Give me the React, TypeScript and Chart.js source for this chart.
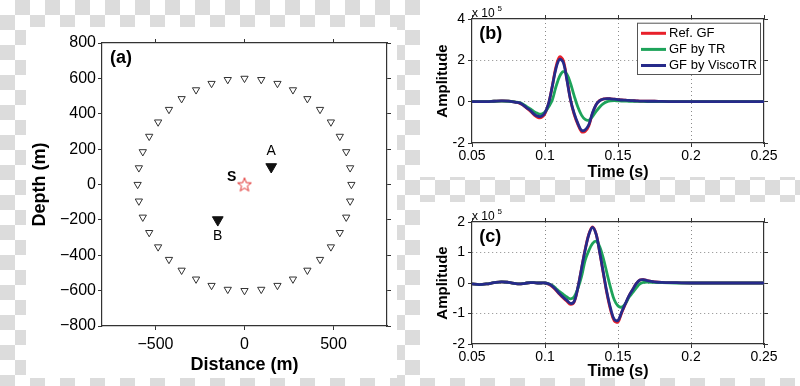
import React, { useEffect, useRef } from 'react';
import { Chart, registerables } from 'chart.js';

Chart.register(...registerables);

const FONT = '"Liberation Sans", Arial, Helvetica, sans-serif';

// ---------- Panel (a): receiver geometry ----------
const STATION_X = [0, 94, 185, 272, 353, 424, 485, 535, 571, 593, 600, 593, 571, 535, 485, 424, 353, 272, 185, 94,
  0, -94, -185, -272, -353, -424, -485, -535, -571, -593, -600, -593, -571, -535, -485, -424, -353, -272, -185, -94];
const STATION_Y = [600, 593, 571, 535, 485, 424, 353, 272, 185, 94, 0, -94, -185, -272, -353, -424, -485, -535, -571, -593,
  -600, -593, -571, -535, -485, -424, -353, -272, -185, -94, 0, 94, 185, 272, 353, 424, 485, 535, 571, 593];
const MARKED_X = [150, -150];
const MARKED_Y = [100, -200];
const SOURCE_X = [0];
const SOURCE_Y = [0];
const NOTE_TEXT = ['A', 'B', 'S'];
const NOTE_X = [150, -150, -72];
const NOTE_Y = [188, -290, 40];
const A_X_TICKS = [-500, 0, 500];
const A_X_LABELS = ['\u2212500', '0', '500'];
const A_Y_TICKS = [-800, -600, -400, -200, 0, 200, 400, 600, 800];
const A_Y_LABELS = ['\u2212800', '\u2212600', '\u2212400', '\u2212200', '0', '200', '400', '600', '800'];

// ---------- Panels (b), (c): waveforms (x 10^5) ----------
const TIME = [0.05, 0.055, 0.06, 0.065, 0.07, 0.075, 0.08, 0.0825, 0.085, 0.0875, 0.09, 0.0925, 0.095, 0.0975,
  0.1, 0.1025, 0.105, 0.1075, 0.11, 0.1125, 0.115, 0.1175, 0.12, 0.1225, 0.125, 0.1275, 0.13, 0.1325, 0.135,
  0.1375, 0.14, 0.1425, 0.145, 0.1475, 0.15, 0.1525, 0.155, 0.1575, 0.16, 0.1625, 0.165, 0.1675, 0.17, 0.175,
  0.18, 0.19, 0.2, 0.21, 0.22, 0.23, 0.24, 0.25];

const B_REF = [0, 0, 0, 0.02, 0.04, 0.03, -0.03, -0.07, -0.17, -0.32, -0.46, -0.64, -0.76, -0.77, -0.58, -0.09,
  0.76, 1.68, 2.17, 2.0, 1.1, 0.08, -0.62, -1.1, -1.45, -1.44, -1.17, -0.58, -0.14, 0.06, 0.13, 0.15, 0.14, 0.12,
  0.1, 0.08, 0.07, 0.06, 0.05, 0.04, 0.03, 0.03, 0.02, 0.02, 0.01, 0, 0, 0, 0, 0, 0, 0];
const B_TR = [0, 0, 0, 0.02, 0.03, 0.02, -0.02, -0.05, -0.12, -0.24, -0.35, -0.48, -0.57, -0.6, -0.5, -0.25,
  0.08, 0.72, 1.22, 1.45, 1.33, 0.88, 0.28, -0.26, -0.65, -0.86, -0.9, -0.72, -0.47, -0.26, -0.1, 0, 0.04, 0.05,
  0.04, 0.03, 0.03, 0.02, 0.02, 0.01, 0.01, 0.01, 0, 0, 0, 0, 0, 0, 0, 0, 0, 0];
const B_VISCO = [0, 0, 0, 0.02, 0.04, 0.03, -0.03, -0.06, -0.16, -0.3, -0.43, -0.6, -0.7, -0.71, -0.53, -0.07,
  0.74, 1.6, 2.05, 1.9, 1.05, 0.08, -0.57, -1.05, -1.38, -1.36, -1.12, -0.55, -0.15, 0.05, 0.13, 0.15, 0.14, 0.12,
  0.1, 0.08, 0.07, 0.06, 0.05, 0.04, 0.03, 0.03, 0.02, 0.02, 0.01, 0, 0, 0, 0, 0, 0, 0];

const C_REF = [-0.03, -0.05, -0.03, 0.01, 0.04, 0.02, -0.02, -0.03, -0.02, 0, 0.01, 0.01, 0, 0, 0, -0.04,
  -0.12, -0.24, -0.37, -0.49, -0.6, -0.7, -0.62, -0.16, 0.47, 1.1, 1.6, 1.84, 1.61, 1.0, 0.3, -0.37, -0.9, -1.25,
  -1.28, -0.98, -0.7, -0.43, -0.22, -0.02, 0.1, 0.11, 0.08, 0.04, 0.02, 0.01, 0, 0, 0, 0, 0, 0];
const C_TR = [-0.03, -0.05, -0.03, 0.01, 0.04, 0.02, -0.02, -0.03, -0.02, 0, 0.01, 0.01, 0, 0, 0, -0.03,
  -0.08, -0.18, -0.28, -0.37, -0.46, -0.52, -0.45, -0.18, 0.21, 0.74, 1.06, 1.29, 1.37, 1.19, 0.8, 0.31, -0.17,
  -0.56, -0.75, -0.79, -0.68, -0.47, -0.32, -0.16, -0.03, 0.02, 0.03, 0.02, 0.01, 0, 0, 0, 0, 0, 0, 0];
const C_VISCO = [-0.03, -0.05, -0.03, 0.01, 0.04, 0.02, -0.02, -0.03, -0.02, 0, 0.01, 0.01, 0, 0, 0, -0.03,
  -0.1, -0.22, -0.35, -0.47, -0.57, -0.67, -0.6, -0.15, 0.47, 1.08, 1.58, 1.82, 1.6, 1.0, 0.33, -0.33, -0.85,
  -1.2, -1.23, -0.95, -0.68, -0.42, -0.22, -0.02, 0.1, 0.11, 0.08, 0.04, 0.02, 0.01, 0, 0, 0, 0, 0, 0];

const SERIES_NAMES = ['Ref. GF', 'GF by TR', 'GF by ViscoTR'];
const SERIES_COLORS = ['#e8202a', '#1ea35a', '#262a8a'];
const T_TICKS = [0.05, 0.1, 0.15, 0.2, 0.25];
const T_LABELS = ['0.05', '0.1', '0.15', '0.2', '0.25'];
const B_Y_TICKS = [-2, 0, 2, 4];
const B_Y_LABELS = ['-2', '0', '2', '4'];
const C_Y_TICKS = [-2, -1, 0, 1, 2];
const C_Y_LABELS = ['-2', '-1', '0', '1', '2'];

const FRAME = '#333';

function makeStar(): HTMLCanvasElement {
  const c = document.createElement('canvas');
  c.width = 18;
  c.height = 18;
  const g = c.getContext('2d')!;
  g.strokeStyle = '#e0302f';
  g.lineWidth = 1;
  g.beginPath();
  for (let k = 0; k < 10; k++) {
    const r = k % 2 === 0 ? 7.3 : 3;
    const a = -Math.PI / 2 + (k * Math.PI) / 5;
    const px = 9 + r * Math.cos(a);
    const py = 9.6 + r * Math.sin(a);
    if (k === 0) g.moveTo(px, py);
    else g.lineTo(px, py);
  }
  g.closePath();
  g.stroke();
  return c;
}

type Note = { text: string; font: string; dx: number; dy: number; align?: CanvasTextAlign; baseline?: CanvasTextBaseline };

function areaNotes(items: Note[]) {
  return {
    id: 'areaNotes',
    afterDatasetsDraw(chart: any) {
      const { ctx, chartArea } = chart;
      ctx.save();
      for (const it of items) {
        ctx.font = it.font;
        ctx.fillStyle = '#000';
        ctx.textAlign = it.align || 'left';
        ctx.textBaseline = it.baseline || 'middle';
        ctx.fillText(it.text, chartArea.left + it.dx, chartArea.top + it.dy);
      }
      ctx.restore();
    },
  };
}

const dataNotes = {
  id: 'dataNotes',
  afterDatasetsDraw(chart: any) {
    const { ctx, scales } = chart;
    ctx.save();
    ctx.fillStyle = '#000';
    ctx.textAlign = 'center';
    ctx.textBaseline = 'middle';
    NOTE_TEXT.forEach((t, i) => {
      ctx.font = t === 'S' ? `bold 14px ${FONT}` : `14px ${FONT}`;
      ctx.fillText(t, scales.x.getPixelForValue(NOTE_X[i]), scales.y.getPixelForValue(NOTE_Y[i]));
    });
    ctx.restore();
  },
};

const boxLegend = {
  id: 'boxLegend',
  afterDatasetsDraw(chart: any) {
    const { ctx, chartArea } = chart;
    const left = chartArea.right - 127;
    const top = chartArea.top + 3.7;
    const w = 123;
    const h = 51.3;
    ctx.save();
    ctx.fillStyle = '#fff';
    ctx.fillRect(left, top, w, h);
    ctx.strokeStyle = '#555';
    ctx.lineWidth = 1;
    ctx.strokeRect(left + 0.5, top + 0.5, w, h);
    chart.data.datasets.forEach((ds: any, i: number) => {
      const y = top + 10.6 + i * 16.1;
      ctx.strokeStyle = ds.borderColor;
      ctx.lineWidth = 3;
      ctx.beginPath();
      ctx.moveTo(left + 4, y);
      ctx.lineTo(left + 29, y);
      ctx.stroke();
      ctx.fillStyle = '#000';
      ctx.font = `13px ${FONT}`;
      ctx.textAlign = 'left';
      ctx.textBaseline = 'middle';
      ctx.fillText(ds.label, left + 32, y);
    });
    ctx.restore();
  },
};

function frameAxis(position: string, ticks: number[], min: number, max: number, size: number, extra: any = {}) {
  const horiz = position === 'top' || position === 'bottom';
  return {
    type: 'linear',
    position,
    min,
    max,
    afterBuildTicks: (s: any) => {
      s.ticks = ticks.map((v) => ({ value: v }));
    },
    afterFit: (s: any) => {
      if (horiz) s.height = size;
      else s.width = size;
    },
    ticks: { display: false },
    grid: { display: true, drawOnChartArea: false, drawTicks: true, tickLength: 4, tickColor: FRAME, tickWidth: 1 },
    border: { display: true, color: FRAME, width: 1.2 },
    ...extra,
  };
}

function configA(): any {
  const star = makeStar();
  return {
    type: 'scatter',
    data: {
      datasets: [
        {
          label: 'stations',
          data: STATION_X.map((x, i) => ({ x, y: STATION_Y[i] })),
          pointStyle: 'triangle',
          pointRotation: 180,
          pointRadius: 4.2,
          pointBorderColor: '#333',
          pointBackgroundColor: 'rgba(255,255,255,0)',
          pointBorderWidth: 1,
        },
        {
          label: 'A/B',
          data: MARKED_X.map((x, i) => ({ x, y: MARKED_Y[i] })),
          pointStyle: 'triangle',
          pointRotation: 180,
          pointRadius: 6.2,
          pointBorderColor: '#111',
          pointBackgroundColor: '#111',
          pointBorderWidth: 1,
        },
        {
          label: 'source',
          data: SOURCE_X.map((x, i) => ({ x, y: SOURCE_Y[i] })),
          pointStyle: star,
          pointRadius: 7,
        },
      ],
    },
    options: {
      responsive: false,
      animation: false,
      events: [],
      layout: { padding: 0, autoPadding: false },
      plugins: { legend: { display: false }, tooltip: { enabled: false } },
      scales: {
        x: frameAxis('bottom', A_X_TICKS, -800, 800, 60, {
          ticks: {
            display: true,
            autoSkip: false,
            maxRotation: 0,
            padding: 5,
            color: '#000',
            font: { family: FONT, size: 16 },
            callback: (_v: any, i: number) => A_X_LABELS[i],
          },
          title: {
            display: true,
            text: 'Distance (m)',
            color: '#000',
            font: { family: FONT, size: 18, weight: 'bold' },
            padding: { top: 0, bottom: 10 },
          },
        }),
        x2: frameAxis('top', A_X_TICKS, -800, 800, 43),
        y: frameAxis('left', A_Y_TICKS, -800, 800, 102, {
          ticks: {
            display: true,
            autoSkip: false,
            padding: 2,
            color: '#000',
            font: { family: FONT, size: 16 },
            callback: (_v: any, i: number) => A_Y_LABELS[i],
          },
          title: {
            display: true,
            text: 'Depth (m)',
            color: '#000',
            font: { family: FONT, size: 18, weight: 'bold' },
            padding: { top: 29.7, bottom: 0 },
          },
        }),
        y2: frameAxis('right', A_Y_TICKS, -800, 800, 413),
      },
    },
    plugins: [
      dataNotes,
      areaNotes([{ text: '(a)', font: `bold 18px ${FONT}`, dx: 8, dy: 15 }]),
    ],
  };
}

function gridColor(n: number) {
  return (c: any) => (c.index === 0 || c.index === n - 1 ? 'rgba(0,0,0,0)' : '#8a8a8a');
}

function configWave(
  series: number[][],
  yTicks: number[],
  yLabels: string[],
  yMin: number,
  yMax: number,
  topH: number,
  bottomH: number,
  xTitlePad: number,
  label: string,
  withLegend: boolean,
): any {
  const plugins: any[] = [
    areaNotes([
      { text: label, font: `bold 18px ${FONT}`, dx: 7.3, dy: 15.5 },
      { text: 'x 10', font: `12px ${FONT}`, dx: 0, dy: -2.4, baseline: 'alphabetic' },
      { text: '5', font: `8px ${FONT}`, dx: 25.5, dy: -7.6, baseline: 'alphabetic' },
    ]),
  ];
  if (withLegend) plugins.push(boxLegend);
  return {
    type: 'line',
    data: {
      datasets: series.map((s, k) => ({
        label: SERIES_NAMES[k],
        data: TIME.map((t, i) => ({ x: t, y: s[i] })),
        borderColor: SERIES_COLORS[k],
        backgroundColor: SERIES_COLORS[k],
        borderWidth: 2.8,
        pointRadius: 0,
        tension: 0.35,
        fill: false,
        order: 3 - k,
      })),
    },
    options: {
      responsive: false,
      animation: false,
      events: [],
      layout: { padding: 0, autoPadding: false },
      plugins: { legend: { display: false }, tooltip: { enabled: false } },
      scales: {
        x: frameAxis('bottom', T_TICKS, 0.05, 0.25, bottomH, {
          ticks: {
            display: true,
            autoSkip: false,
            maxRotation: 0,
            padding: 1,
            color: '#000',
            font: { family: FONT, size: 14 },
            callback: (_v: any, i: number) => T_LABELS[i],
          },
          grid: {
            display: true,
            drawOnChartArea: true,
            drawTicks: true,
            tickLength: 4,
            tickColor: FRAME,
            tickWidth: 1,
            color: gridColor(T_TICKS.length),
            lineWidth: 1,
          },
          border: { display: true, color: FRAME, width: 1.2, dash: [1, 3] },
          title: {
            display: true,
            text: 'Time (s)',
            color: '#000',
            font: { family: FONT, size: 16, weight: 'bold' },
            padding: { top: 0, bottom: xTitlePad },
          },
        }),
        x2: frameAxis('top', T_TICKS, 0.05, 0.25, topH),
        y: frameAxis('left', yTicks, yMin, yMax, 472, {
          ticks: {
            display: true,
            autoSkip: false,
            padding: 3,
            color: '#000',
            font: { family: FONT, size: 14 },
            callback: (_v: any, i: number) => yLabels[i],
          },
          grid: {
            display: true,
            drawOnChartArea: true,
            drawTicks: true,
            tickLength: 4,
            tickColor: FRAME,
            tickWidth: 1,
            color: gridColor(yTicks.length),
            lineWidth: 1,
          },
          border: { display: true, color: FRAME, width: 1.2, dash: [1, 3] },
          title: {
            display: true,
            text: 'Amplitude',
            color: '#000',
            font: { family: FONT, size: 15, weight: 'bold' },
            padding: { top: 433.8, bottom: 0 },
          },
        }),
        y2: frameAxis('right', yTicks, yMin, yMax, 36),
      },
    },
    plugins,
  };
}

export default function App() {
  const refA = useRef<HTMLCanvasElement>(null);
  const refB = useRef<HTMLCanvasElement>(null);
  const refC = useRef<HTMLCanvasElement>(null);

  useEffect(() => {
    const charts: Chart[] = [];
    charts.push(new Chart(refA.current!, configA()));
    charts.push(
      new Chart(
        refB.current!,
        configWave([B_REF, B_TR, B_VISCO], B_Y_TICKS, B_Y_LABELS, -2, 4, 19, 243, 204, '(b)', true),
      ),
    );
    charts.push(
      new Chart(
        refC.current!,
        configWave([C_REF, C_TR, C_VISCO], C_Y_TICKS, C_Y_LABELS, -2, 2, 222, 42, 4.7, '(c)', false),
      ),
    );
    return () => charts.forEach((c) => c.destroy());
  }, []);

  const canvasStyle: React.CSSProperties = { position: 'absolute', left: 0, top: 0 };

  return (
    <div
      style={{
        position: 'fixed',
        left: 0,
        top: 0,
        width: 800,
        height: 386,
        overflow: 'hidden',
        background: 'repeating-conic-gradient(#dcdcdc 0 25%, #ffffff 0 50%) 0 0 / 30px 30px',
      }}
    >
      <div style={{ position: 'absolute', left: 26, top: 27, width: 371, height: 351, background: '#fff' }} />
      <div style={{ position: 'absolute', left: 420, top: 0, width: 380, height: 177, background: '#fff' }} />
      <div style={{ position: 'absolute', left: 420, top: 202, width: 380, height: 176, background: '#fff' }} />
      <canvas ref={refA} width={800} height={386} style={canvasStyle} />
      <canvas ref={refB} width={800} height={386} style={canvasStyle} />
      <canvas ref={refC} width={800} height={386} style={canvasStyle} />
    </div>
  );
}
